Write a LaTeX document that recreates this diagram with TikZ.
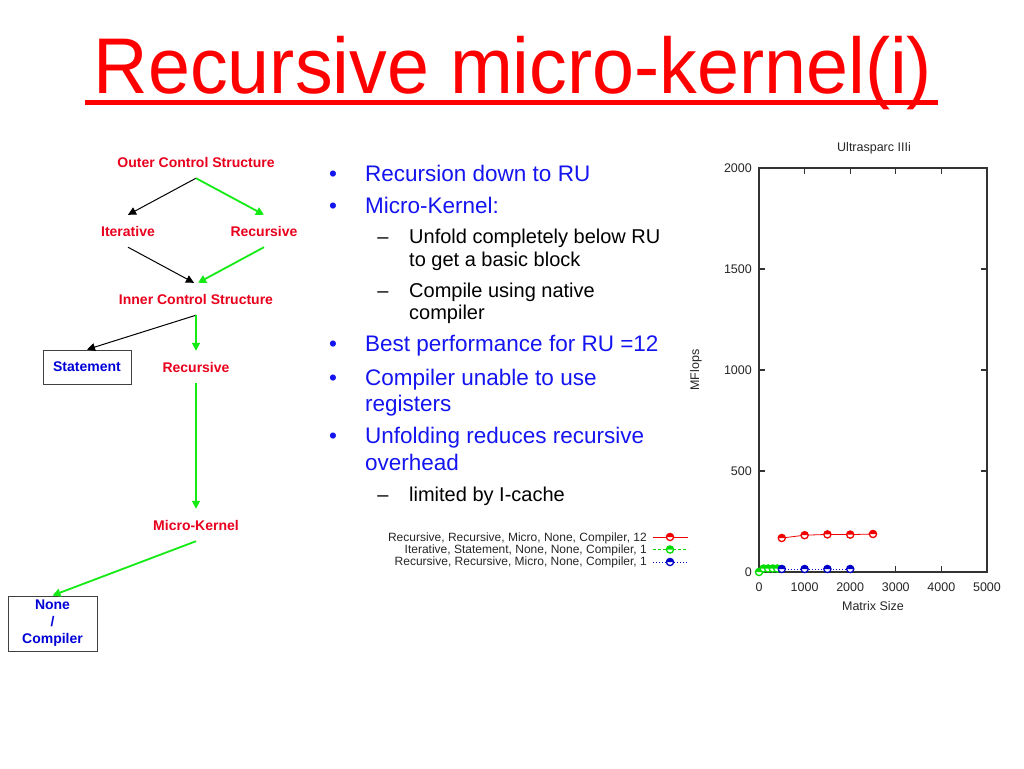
\documentclass[tikz,border=0pt]{standalone}
\usepackage{fontspec}
\usepackage{graphicx}
\setmainfont{Liberation Sans}
\usetikzlibrary{arrows.meta}
\definecolor{tred}{RGB}{255,0,0}
\definecolor{fred}{RGB}{232,0,28}
\definecolor{fblue}{RGB}{0,0,215}
\definecolor{bblue}{RGB}{20,20,240}
\definecolor{fgreen}{RGB}{20,235,20}
\definecolor{pred}{RGB}{240,0,0}
\definecolor{pgreen}{RGB}{0,220,0}
\definecolor{pblue}{RGB}{0,0,200}
\begin{document}
\begin{tikzpicture}[x=1pt,y=-1pt,
  flab/.style={font=\fontsize{14}{16}\selectfont\bfseries, text=fred, inner sep=0pt, minimum height=32pt},
  fbox/.style={draw=black!75, line width=1pt, text=fblue, font=\fontsize{14}{17}\selectfont\bfseries, inner sep=0pt, align=center},
  blkarrow/.style={-{Triangle[length=8pt,width=8pt]}, line width=1pt, black},
  grnarrow/.style={-{Triangle[length=8pt,width=8pt]}, line width=1.8pt, fgreen},
  mainline/.style={font=\fontsize{22.5}{27}\selectfont, text=bblue, inner sep=0pt, anchor=base west},
  subline/.style={font=\fontsize{20}{23}\selectfont, text=black, inner sep=0pt, anchor=base west},
  bul/.style={font=\fontsize{22.5}{27}\selectfont, text=bblue, inner sep=0pt, anchor=base},
  dsh/.style={font=\fontsize{20}{23}\selectfont, text=black, inner sep=0pt, anchor=base},
  axis/.style={line width=1.2pt, black!80},
  ticklab/.style={font=\fontsize{12.5}{14}\selectfont, text=black!85, inner sep=0pt},
  leglab/.style={font=\fontsize{12}{14}\selectfont, text=black!85, inner sep=0pt, anchor=base east},
  pics/ptm/.style={code={
    \draw[#1, line width=1.3pt, fill=white] (0,0) circle (3.6);
    \fill[#1] (-3.6,0) arc (180:360:3.6) -- cycle;}}
]
\useasboundingbox (0,0) rectangle (1024,768);

% ---------- title ----------
\node[inner sep=0pt, anchor=base, text=tred, font=\fontsize{79}{84}\selectfont] (title) at (513,93) {\scalebox{0.955}[1]{Recursive micro-kernel(i)}};
\draw[tred, line width=5pt] (85,102.5) -- (938,102.5);

% ---------- flow chart ----------
\node[flab] (outer) at (196,162) {Outer Control Structure};
\node[flab] (iter) at (128,231) {Iterative};
\node[flab] (rec1) at (264,231) {Recursive};
\node[flab] (inner) at (196,299) {Inner Control Structure};
\node[fbox, minimum width=88pt, minimum height=34pt] (stmt) at (87,367) {Statement};
\node[flab] (rec2) at (196,367) {Recursive};
\node[flab] (mk) at (196,525) {Micro-Kernel};
\node[fbox, minimum width=89pt, minimum height=55pt, font=\fontsize{14}{17}\selectfont\bfseries] (none) at (52.5,623.5) {None\\/\\Compiler};

\draw[blkarrow] (outer.south) -- (iter.north);
\draw[grnarrow] (outer.south) -- (rec1.north);
\draw[blkarrow] (iter.south) -- ([xshift=-2pt]inner.north);
\draw[grnarrow] (rec1.south) -- ([xshift=2pt]inner.north);
\draw[blkarrow] (inner.south) -- (stmt.north);
\draw[grnarrow] (inner.south) -- (rec2.north);
\draw[grnarrow] (rec2.south) -- (mk.north);
\draw[grnarrow] (mk.south) -- (none.north);

% ---------- bullets ----------
\node[bul] (d1) at (333,181) {•};
\node[mainline] (l1) at (365,181) {Recursion down to RU};
\node[bul] (d2) at (333,213) {•};
\node[mainline] (l2) at (365,213) {Micro-Kernel:};
\node[dsh] (s1) at (383,243) {–};
\node[subline] (l3) at (409,243) {Unfold completely below RU};
\node[subline] (l4) at (409,266) {to get a basic block};
\node[dsh] (s2) at (383,297) {–};
\node[subline] (l5) at (409,297) {Compile using native};
\node[subline] (l6) at (409,319) {compiler};
\node[bul] (d3) at (333,351) {•};
\node[mainline] (l7) at (365,351) {Best performance for RU =12};
\node[bul] (d4) at (333,385) {•};
\node[mainline] (l8) at (365,385) {Compiler unable to use};
\node[mainline] (l9) at (365,411) {registers};
\node[bul] (d5) at (333,443) {•};
\node[mainline] (l10) at (365,443) {Unfolding reduces recursive};
\node[mainline] (l11) at (365,470) {overhead};
\node[dsh] (s3) at (383,501) {–};
\node[subline] (l12) at (409,501) {limited by I-cache};

% ---------- legend ----------
\node[leglab] (g1) at (647,541.5) {Recursive, Recursive, Micro, None, Compiler, 12};
\node[leglab] (g2) at (647,553.5) {Iterative, Statement, None, None, Compiler, 1};
\node[leglab] (g3) at (647,565.5) {Recursive, Recursive, Micro, None, Compiler, 1};
\coordinate (r1) at (653,537); \coordinate (r2) at (688,537);
\coordinate (e1) at (653,549.5); \coordinate (e2) at (688,549.5);
\coordinate (b1) at (653,562); \coordinate (b2) at (688,562);
\draw[pred, line width=0.7pt] (r1) -- (r2);
\draw[pgreen, line width=0.7pt, dash pattern=on 3pt off 2pt] (e1) -- (e2);
\draw[pblue, line width=0.8pt, dash pattern=on 1pt off 2pt] (b1) -- (b2);
\pic at (670,537) {ptm=pred};
\pic at (670,549.5) {ptm=pgreen};
\pic at (670,562) {ptm=pblue};

% ---------- plot ----------
\node[ticklab] (ptitle) at (874,148) {Ultrasparc IIIi};
\node[ticklab, rotate=90] (ylab) at (696,370) {MFlops};
\node[ticklab] (xlab) at (873,606) {Matrix Size};
\draw[axis] (759,168) rectangle (987,572);
\foreach \v [count=\i] in {0,500,1000,1500,2000} {
  \pgfmathsetmacro\yy{572-\v*0.202}
  \node[ticklab, anchor=east] (yl\i) at (752,\yy) {\v};
  \draw[axis] (759,\yy) -- ++(6,0);
  \draw[axis] (987,\yy) -- ++(-6,0);
}
\foreach \v [count=\i] in {0,1000,2000,3000,4000,5000} {
  \pgfmathsetmacro\xx{759+\v*0.0456}
  \node[ticklab] (xl\i) at (\xx,587) {\v};
  \draw[axis] (\xx,572) -- ++(0,-6);
  \draw[axis] (\xx,168) -- ++(0,6);
}
% data
\draw[pred, line width=0.8pt] (781.8,538) -- (804.6,535.2) -- (827.4,534.4) -- (850.2,534.6) -- (873,534);
\draw[pgreen, line width=0.8pt, dash pattern=on 3pt off 2pt] (759,572) -- (763.6,568.5) -- (768.1,568.5) -- (772.7,568.5) -- (777.2,568.5);
\draw[pblue, line width=0.9pt, dash pattern=on 1pt off 2pt] (781.8,569) -- (804.6,569) -- (827.4,569) -- (850.2,569);
\foreach \x/\y in {781.8/538, 804.6/535.2, 827.4/534.4, 850.2/534.6, 873/534} \pic at (\x,\y) {ptm=pred};
\foreach \x/\y in {759/572, 763.6/568.5, 768.1/568.5, 772.7/568.5, 777.2/568.5} \pic at (\x,\y) {ptm=pgreen};
\foreach \x/\y in {781.8/569, 804.6/569, 827.4/569, 850.2/569} \pic at (\x,\y) {ptm=pblue};
\end{tikzpicture}
\end{document}
